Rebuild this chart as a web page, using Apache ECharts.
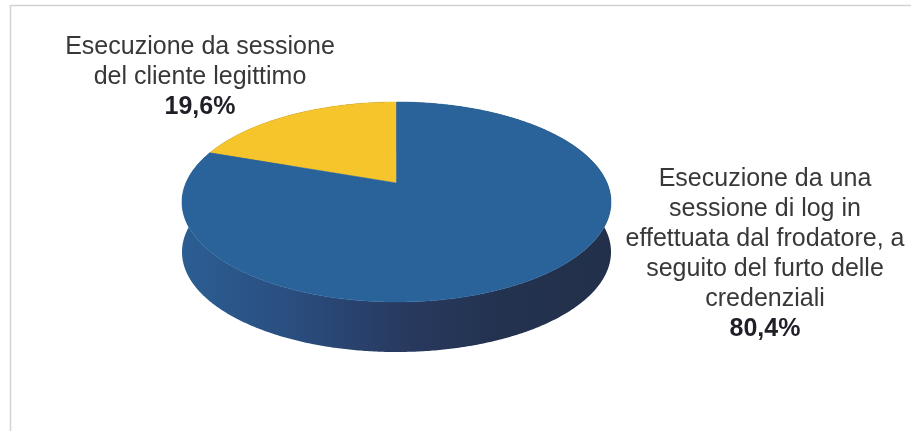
<!DOCTYPE html>
<html>
<head>
<meta charset="utf-8">
<script src="https://cdn.jsdelivr.net/npm/echarts@6/dist/echarts.min.js"></script>
<style>
html,body{margin:0;padding:0;background:#fff;}
#chart{width:911px;height:432px;}
</style>
</head>
<body>
<div id="chart"></div>
<script>
// ---- data ----
const categories = [
  'Esecuzione da sessione del cliente legittimo',
  'Esecuzione da una sessione di log in effettuata dal frodatore, a seguito del furto delle credenziali'
];
const labelLines = [
  ['Esecuzione da sessione', 'del cliente legittimo'],
  ['Esecuzione da una', 'sessione di log in', 'effettuata dal frodatore, a', 'seguito del furto delle', 'credenziali']
];
const values = [19.6, 80.4];
const percentLabels = ['19,6%', '80,4%'];

// ---- geometry / style ----
const CX = 396.5, CY = 183, P = 0.19, M = 96.4, K = 210.6, H = 50;
const topColors = ['#F6C52B', '#29639A'];
const total = values.reduce((a, b) => a + b, 0);

function proj(x, z, dy) {
  const w = 1 - P * z;
  return [CX + K * x / w, CY + M * z / w + dy];
}
function dirPoint(t, dy) {
  return proj(-Math.sin(t), -Math.cos(t), dy);
}

const sideGradient = new echarts.graphic.LinearGradient(0, 0, 1, 0, [
  { offset: 0, color: '#2B5E93' },
  { offset: 0.25, color: '#2A4E80' },
  { offset: 0.51, color: '#283A60' },
  { offset: 0.74, color: '#23324F' },
  { offset: 1, color: '#22304B' }
]);
sideGradient.global = true;
sideGradient.x = 182; sideGradient.y = 0; sideGradient.x2 = 611; sideGradient.y2 = 0;

function renderItem(params, api) {
  const i = params.dataIndex;
  let before = 0;
  for (let j = 0; j < i; j++) before += values[j];
  const t0 = before / total * Math.PI * 2;
  const t1 = (before + api.value(0)) / total * Math.PI * 2;
  const steps = Math.max(4, Math.ceil((t1 - t0) / (Math.PI / 360)));
  const topArc = [], botArc = [];
  for (let s = 0; s <= steps; s++) {
    const t = t0 + (t1 - t0) * s / steps;
    topArc.push(dirPoint(t, 0));
    botArc.push(dirPoint(t, H));
  }
  const sidePts = topArc.concat(botArc.slice().reverse());
  const facePts = [proj(0, 0, 0)].concat(topArc);
  return {
    type: 'group',
    children: [
      { type: 'polygon', z2: 1, shape: { points: sidePts }, style: { fill: sideGradient } },
      { type: 'polygon', z2: 10, shape: { points: facePts }, style: { fill: topColors[i], stroke: topColors[i], lineWidth: 0.5 } }
    ]
  };
}

function richLabel(i) {
  return labelLines[i].map(l => '{n|' + l + '}').join('\n') + '\n{b|' + percentLabels[i] + '}';
}
const rich = {
  n: { fontFamily: 'Liberation Sans, Arial, sans-serif', fontSize: 25, lineHeight: 30, fill: '#383838', color: '#383838' },
  b: { fontFamily: 'Liberation Sans, Arial, sans-serif', fontSize: 25, lineHeight: 30, fontWeight: 'bold', fill: '#1f1f28', color: '#1f1f28' }
};

const chart = echarts.init(document.getElementById('chart'));
chart.setOption({
  animation: false,
  series: [{
    type: 'custom',
    coordinateSystem: 'none',
    renderItem: renderItem,
    data: values.map((v, i) => ({ name: categories[i], value: v }))
  }],
  graphic: [
    { type: 'line', shape: { x1: 10.5, y1: 5.5, x2: 911, y2: 5.5 }, style: { stroke: '#d2d2d2', lineWidth: 1.5 } },
    { type: 'line', shape: { x1: 10.5, y1: 5.5, x2: 10.5, y2: 431 }, style: { stroke: '#d2d2d2', lineWidth: 1.5 } },
    { type: 'text', x: 200, y: 32.5, style: { text: richLabel(0), rich: rich, align: 'center', verticalAlign: 'top' } },
    { type: 'text', x: 765, y: 164, style: { text: richLabel(1), rich: rich, align: 'center', verticalAlign: 'top' } }
  ]
});
</script>
</body>
</html>
